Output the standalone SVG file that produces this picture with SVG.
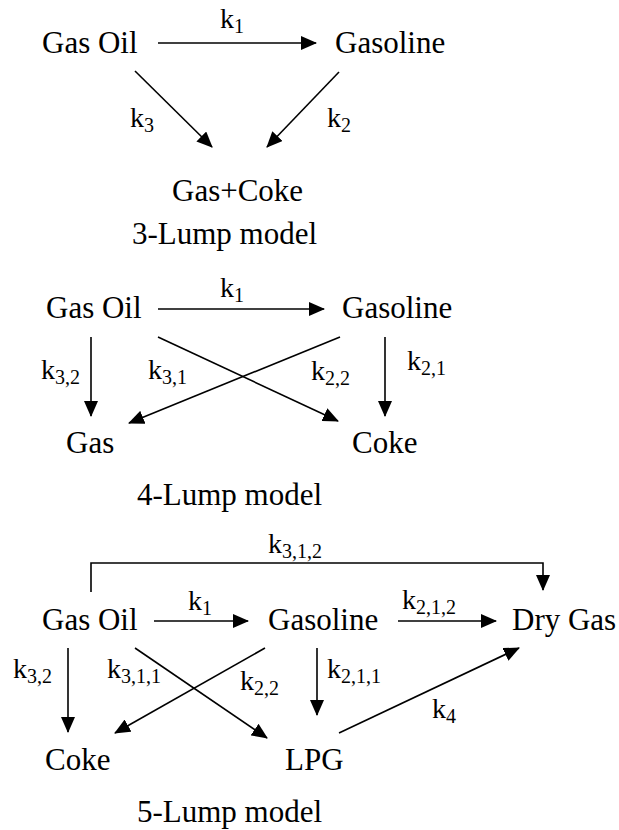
<svg xmlns="http://www.w3.org/2000/svg" width="619" height="830" viewBox="0 0 619 830" font-family="'Liberation Serif','Times New Roman',serif">
<style>
text{font-family:"Liberation Serif","Times New Roman",serif;fill:#000}
.n{font-size:31px}
.k{font-size:28px}
.s{font-size:20px}
.c{stroke:#000;stroke-width:1.6;fill:none}
</style>
<defs>
<marker id="ah" viewBox="0 0 16 14" refX="15" refY="7" markerWidth="16" markerHeight="14" markerUnits="userSpaceOnUse" orient="auto">
<path d="M0,0 L16,7 L0,14 z" fill="#000"/>
</marker>
</defs>
<rect width="619" height="830" fill="#fff"/>

<!-- 3-Lump model -->
<g id="m3-gasoil"><text class="n" x="42" y="53">Gas Oil</text></g>
<g id="m3-gasoline"><text class="n" x="335" y="53">Gasoline</text></g>
<g id="m3-gascoke"><text class="n" x="172" y="201">Gas+Coke</text></g>
<g id="m3-title"><text class="n" x="132" y="244">3-Lump model</text></g>

<!-- 4-Lump model -->
<g id="m4-gasoil"><text class="n" x="46" y="318">Gas Oil</text></g>
<g id="m4-gasoline"><text class="n" x="342" y="318">Gasoline</text></g>
<g id="m4-gas"><text class="n" x="66" y="453">Gas</text></g>
<g id="m4-coke"><text class="n" x="352" y="453">Coke</text></g>
<g id="m4-title"><text class="n" x="137" y="505">4-Lump model</text></g>

<!-- 5-Lump model -->
<g id="m5-gasoil"><text class="n" x="42" y="630">Gas Oil</text></g>
<g id="m5-gasoline"><text class="n" x="268" y="630">Gasoline</text></g>
<g id="m5-drygas"><text class="n" x="512" y="630">Dry Gas</text></g>
<g id="m5-coke"><text class="n" x="45" y="770">Coke</text></g>
<g id="m5-lpg"><text class="n" x="285" y="770">LPG</text></g>
<g id="m5-title"><text class="n" x="137" y="822">5-Lump model</text></g>

<g id="connectors">
<!-- 3-lump -->
<line class="c" x1="158" y1="43" x2="316" y2="43" marker-end="url(#ah)"/>
<line class="c" x1="135" y1="71" x2="212" y2="147" marker-end="url(#ah)"/>
<line class="c" x1="339" y1="72" x2="267" y2="147" marker-end="url(#ah)"/>
<!-- 4-lump -->
<line class="c" x1="158" y1="309" x2="324" y2="309" marker-end="url(#ah)"/>
<line class="c" x1="91" y1="337" x2="91" y2="416" marker-end="url(#ah)"/>
<line class="c" x1="158" y1="337" x2="338" y2="421" marker-end="url(#ah)"/>
<line class="c" x1="340" y1="337" x2="129" y2="423" marker-end="url(#ah)"/>
<line class="c" x1="385" y1="337" x2="385" y2="416" marker-end="url(#ah)"/>
<!-- 5-lump -->
<polyline class="c" points="91,592 91,563 543,563 543,590" marker-end="url(#ah)"/>
<line class="c" x1="154" y1="621" x2="248" y2="621" marker-end="url(#ah)"/>
<line class="c" x1="398" y1="621" x2="496" y2="621" marker-end="url(#ah)"/>
<line class="c" x1="68" y1="648" x2="68" y2="732" marker-end="url(#ah)"/>
<line class="c" x1="135" y1="648" x2="267" y2="738" marker-end="url(#ah)"/>
<line class="c" x1="265" y1="648" x2="115" y2="733" marker-end="url(#ah)"/>
<line class="c" x1="317" y1="648" x2="317" y2="715" marker-end="url(#ah)"/>
<line class="c" x1="339" y1="733" x2="519" y2="648" marker-end="url(#ah)"/>
</g>

<g id="labels">
<text class="k" x="220" y="28">k<tspan class="s" dy="5">1</tspan></text>
<text class="k" x="130" y="127">k<tspan class="s" dy="5">3</tspan></text>
<text class="k" x="327" y="127">k<tspan class="s" dy="5">2</tspan></text>

<text class="k" x="220" y="297">k<tspan class="s" dy="5">1</tspan></text>
<text class="k" x="41" y="379">k<tspan class="s" dy="5">3,2</tspan></text>
<text class="k" x="148" y="379">k<tspan class="s" dy="5">3,1</tspan></text>
<text class="k" x="311" y="380">k<tspan class="s" dy="5">2,2</tspan></text>
<text class="k" x="407" y="370">k<tspan class="s" dy="5">2,1</tspan></text>

<text class="k" x="268" y="553">k<tspan class="s" dy="5">3,1,2</tspan></text>
<text class="k" x="188" y="610">k<tspan class="s" dy="5">1</tspan></text>
<text class="k" x="402" y="609">k<tspan class="s" dy="5">2,1,2</tspan></text>
<text class="k" x="13" y="678">k<tspan class="s" dy="5">3,2</tspan></text>
<text class="k" x="107" y="678">k<tspan class="s" dy="5">3,1,1</tspan></text>
<text class="k" x="240" y="690">k<tspan class="s" dy="5">2,2</tspan></text>
<text class="k" x="327" y="678">k<tspan class="s" dy="5">2,1,1</tspan></text>
<text class="k" x="432" y="718">k<tspan class="s" dy="5">4</tspan></text>
</g>
</svg>
